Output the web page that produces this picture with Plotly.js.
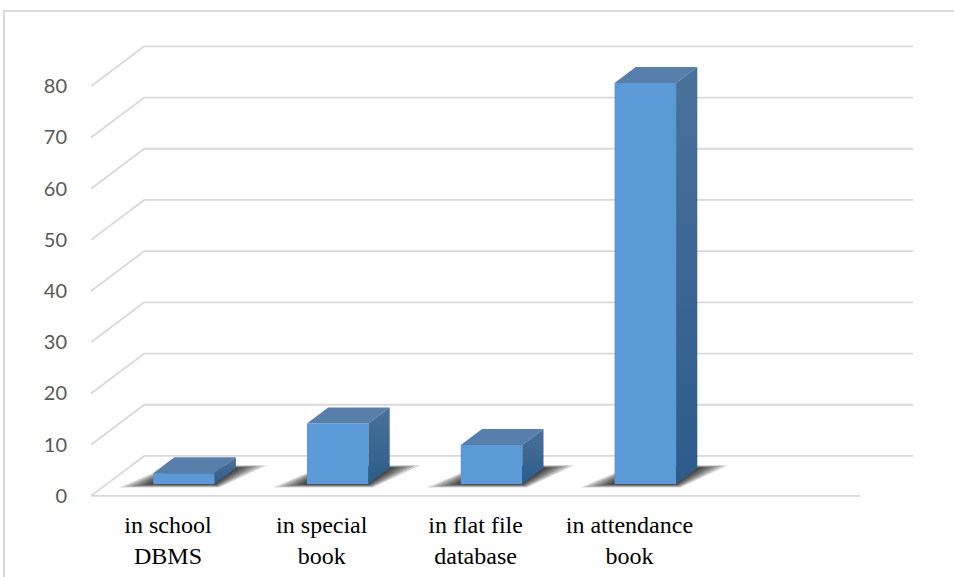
<!DOCTYPE html>
<html>
<head>
<meta charset="utf-8">
<script src="https://cdn.plot.ly/plotly-3.0.1.min.js"></script>
<style>
  html, body { margin: 0; padding: 0; background: #ffffff; }
  #wrap { position: relative; width: 954px; height: 577px; overflow: hidden; }
  #chart { position: absolute; left: 0; top: 0; width: 954px; height: 577px; }
  #frame { position: absolute; left: 3px; top: 10px; width: 1000px; height: 700px;
           border-left: 2px solid #d9d9d9; border-top: 2px solid #d9d9d9; pointer-events: none; }
</style>
</head>
<body>
<div id="wrap">
  <div id="chart"></div>
  <div id="frame"></div>
</div>
<script>
// ---- data ----
const categories = ["in school<br>DBMS", "in special<br>book", "in flat file<br>database", "in attendance<br>book"];
const values = [2.1, 11.8, 7.6, 78.3];
const yTicks = [0, 10, 20, 30, 40, 50, 60, 70, 80];

// ---- pseudo-3D geometry (in axis units) ----
const FLOOR_DX = 0.345;   // depth offset of floor along x (category units)
const FLOOR_DY = 7.8;     // depth offset of floor along y (value units)
const DEPTH_FRONT = 0.3;  // bar front plane as fraction of floor depth
const DEPTH_BAR = 0.4;    // bar depth as fraction of floor depth
const BAR_W = 0.4;        // bar width (category units)
const XL = -0.5;
const XR = categories.length + 0.5;

const X_RANGE = [-0.572, 4.922];
const Y_RANGE = [-1, 90.99];

const GRID = '#d9d9d9';
const FRONT = '#5b9ad6';
const TOP = '#587eab';

const idx = categories.map((_, i) => i);
const cx = idx.map(i => i + DEPTH_FRONT * FLOOR_DX);
const base = DEPTH_FRONT * FLOOR_DY;
const bdx = DEPTH_BAR * FLOOR_DX;
const bdy = DEPTH_BAR * FLOOR_DY;

const traces = [];

// gridlines on back wall + left side + floor (base subplot)
const gx = [], gy = [];
yTicks.forEach(v => {
  if (v === 0) { gx.push(XR); gy.push(v); }
  gx.push(XL, XL + FLOOR_DX, XR + FLOOR_DX, null);
  gy.push(v, v + FLOOR_DY, v + FLOOR_DY, null);
});
traces.push({type: 'scatter', mode: 'lines', x: gx, y: gy, xaxis: 'x', yaxis: 'y',
  line: {color: GRID, width: 1.8}, hoverinfo: 'skip', showlegend: false});

// soft shadows (base subplot, under the bars)
const shadowLayers = [1.0, 0.82, 0.66, 0.5, 0.36, 0.22, 0.1];
idx.forEach(i => {
  const L = cx[i] - BAR_W / 2, R = cx[i] + BAR_W / 2;
  shadowLayers.forEach(k => {
    const sL = 0.22 * k, sR = 0.2 * k, s0 = 0.7 * k, s1 = 0.5 * k;
    traces.push({type: 'scatter', mode: 'lines', xaxis: 'x', yaxis: 'y',
      x: [L - sL, R + 0.03 * k, R + bdx + sR, L + bdx - 0.02 * k, L - sL],
      y: [base - s0, base - s0, base + bdy + s1, base + bdy + s1, base - s0],
      fill: 'toself', fillcolor: 'rgba(0,0,0,0.17)', line: {width: 0, color: 'rgba(0,0,0,0)'},
      hoverinfo: 'skip', showlegend: false});
  });
});

// bar front faces (overlay subplot)
traces.push({type: 'bar', x: cx, y: values, base: base, width: BAR_W,
  xaxis: 'x2', yaxis: 'y2', marker: {color: FRONT, line: {width: 0}},
  hoverinfo: 'y', showlegend: false});

// top faces and side faces
idx.forEach(i => {
  const L = cx[i] - BAR_W / 2, R = cx[i] + BAR_W / 2, t = base + values[i];
  traces.push({type: 'scatter', mode: 'lines', xaxis: 'x2', yaxis: 'y2',
    x: [L, L + bdx, R + bdx, R, L], y: [t, t + bdy, t + bdy, t, t],
    fill: 'toself', fillcolor: TOP, line: {width: 0, color: TOP},
    hoverinfo: 'skip', showlegend: false});
  traces.push({type: 'scatter', mode: 'lines', xaxis: 'x2', yaxis: 'y2',
    x: [R, R, R + bdx, R + bdx, R], y: [base, t, t + bdy, base + bdy, base],
    fill: 'toself', fillcolor: '#3d6792',
    fillgradient: {type: 'vertical', colorscale: [[0, '#2c5c8a'], [1, '#4a7199']]},
    line: {width: 0, color: 'rgba(0,0,0,0)'},
    hoverinfo: 'skip', showlegend: false});
});

const layout = {
  width: 954, height: 577,
  margin: {l: 80, r: 29, t: 30, b: 76},
  paper_bgcolor: 'rgba(0,0,0,0)', plot_bgcolor: 'rgba(0,0,0,0)',
  showlegend: false,
  xaxis: {range: X_RANGE, tickmode: 'array', tickvals: idx, ticktext: categories,
    showgrid: false, zeroline: false, showline: false,
    ticks: 'outside', ticklen: 2, tickcolor: 'rgba(0,0,0,0)',
    tickfont: {family: 'Liberation Serif, Times New Roman, serif', size: 24, color: '#000000'},
    fixedrange: true},
  yaxis: {range: Y_RANGE, tickmode: 'array', tickvals: yTicks,
    showgrid: false, zeroline: false, showline: false,
    ticks: 'outside', ticklen: 8, tickcolor: 'rgba(0,0,0,0)',
    tickfont: {family: 'Lato, Carlito, Calibri, sans-serif', size: 20, color: '#595959'},
    fixedrange: true},
  xaxis2: {range: X_RANGE, overlaying: 'x', anchor: 'y2', visible: false, fixedrange: true},
  yaxis2: {range: Y_RANGE, overlaying: 'y', anchor: 'x2', visible: false, fixedrange: true}
};

Plotly.newPlot('chart', traces, layout, {displayModeBar: false, staticPlot: true});
</script>
</body>
</html>
